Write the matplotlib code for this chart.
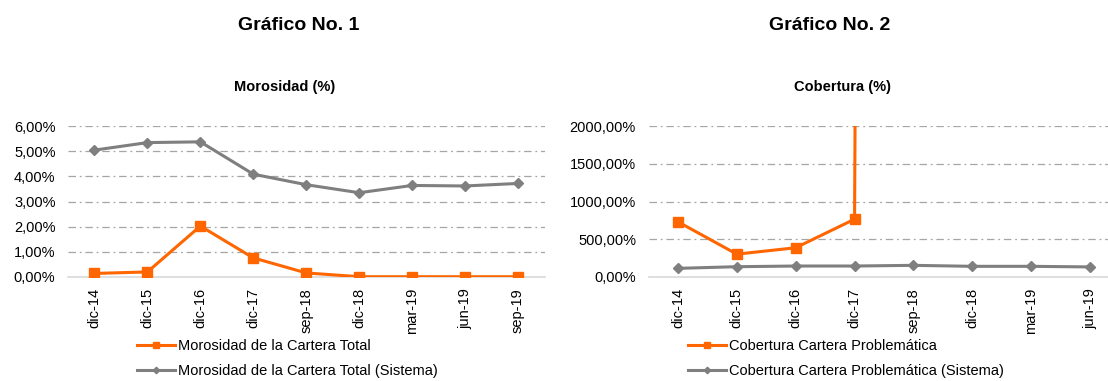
import numpy as np
import matplotlib
matplotlib.use("Agg")
import matplotlib.pyplot as plt
from matplotlib.ticker import FuncFormatter, FixedLocator

plt.rcParams['font.family'] = ['Liberation Sans', 'DejaVu Sans']

# Gráfico 1: morosidad
periodos_1 = ["dic-14", "dic-15", "dic-16", "dic-17", "sep-18",
              "dic-18", "mar-19", "jun-19", "sep-19"]
morosidad = [0.13, 0.19, 2.02, 0.75, 0.15, 0.0, 0.0, 0.0, 0.0]
morosidad_sistema = [5.05, 5.35, 5.38, 4.09, 3.67, 3.35, 3.64, 3.62, 3.72]

# Gráfico 2: cobertura (sep-18 fuera de escala, luego sin dato)
periodos_2 = ["dic-14", "dic-15", "dic-16", "dic-17", "sep-18",
              "dic-18", "mar-19", "jun-19"]
cobertura = [730, 300, 385, 765, 150000, np.nan, np.nan, np.nan]
cobertura_sistema = [111, 133, 142, 142, 151, 138, 138, 130]

NARANJA = "#ff6600"
GRIS = "#7f7f7f"

fig = plt.figure(figsize=(11.08, 3.81), dpi=100)
W, H = 1108, 381


def pct(v, pos):
    return ("%.2f%%" % v).replace(".", ",")


def panel(rect, cats, s1, s2, ylim, yticks, lab1, lab2, leg_x):
    ax = fig.add_axes(rect)
    x = np.arange(len(cats))
    ax.plot(x, s1, color=NARANJA, lw=2.2, marker="s", ms=7, label=lab1,
            zorder=4)
    ax.plot(x, s2, color=GRIS, lw=2.2, marker="D", ms=5.5, label=lab2,
            zorder=3)
    ax.set_xlim(-0.5, len(cats) - 0.5)
    ax.set_ylim(*ylim)
    ax.yaxis.set_major_locator(FixedLocator(yticks))
    ax.yaxis.set_major_formatter(FuncFormatter(pct))
    ax.set_xticks(x)
    ax.set_xticklabels(cats, rotation=90)
    ax.tick_params(length=0, labelsize=10.5, colors="black")
    ax.tick_params(axis="x", pad=8)
    ax.tick_params(axis="y", pad=9)
    for s in ["top", "right", "left"]:
        ax.spines[s].set_visible(False)
    ax.spines["bottom"].set_color("#d9d9d9")
    ax.spines["bottom"].set_linewidth(1.2)
    for yv in yticks[1:]:
        ax.axhline(yv, color="#a6a6a6", lw=0.9, ls=(0, (6, 3, 1.5, 3)),
                   zorder=1)
    h, l = ax.get_legend_handles_labels()
    fig.legend(h, l, loc="upper left", bbox_to_anchor=(leg_x / W, 1 - 339 / H),
               frameon=False, fontsize=10.5, handlelength=2.6,
               labelspacing=0.75, markerscale=0.6, handletextpad=0.2,
               borderaxespad=0, borderpad=0)
    return ax


bot = (H - 276.7) / H
hgt = 150.4 / H
panel([68 / W, bot, 476.5 / W, hgt], periodos_1, morosidad, morosidad_sistema,
      (0, 6), [0, 1, 2, 3, 4, 5, 6],
      "Morosidad de la Cartera Total",
      "Morosidad de la Cartera Total (Sistema)", 137)
panel([648.5 / W, bot, 471 / W, hgt], periodos_2, cobertura, cobertura_sistema,
      (0, 2000), [0, 500, 1000, 1500, 2000],
      "Cobertura Cartera Problemática",
      "Cobertura Cartera Problemática (Sistema)", 688)

fig.text(299 / W, 1 - 26 / H, "Gráfico No. 1", ha="center", va="center",
         fontsize=14, fontweight="bold")
fig.text(285 / W, 1 - 87 / H, "Morosidad (%)", ha="center", va="center",
         fontsize=10.5, fontweight="bold")
fig.text(830 / W, 1 - 26 / H, "Gráfico No. 2", ha="center", va="center",
         fontsize=14, fontweight="bold")
fig.text(843 / W, 1 - 87 / H, "Cobertura (%)", ha="center", va="center",
         fontsize=10.5, fontweight="bold")

fig.savefig("out.png", dpi=100)
